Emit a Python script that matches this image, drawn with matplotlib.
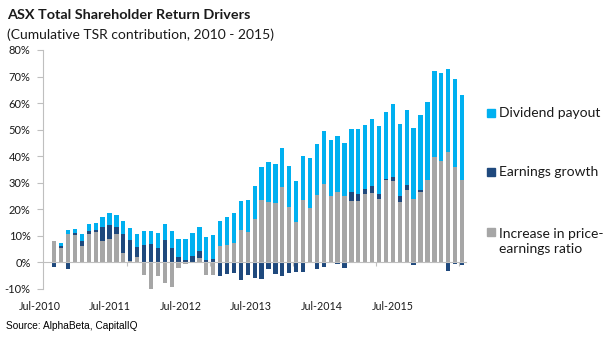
import matplotlib as mpl
import matplotlib.pyplot as plt
import numpy as np
from matplotlib.patches import Rectangle
from matplotlib.ticker import PercentFormatter, FixedLocator, NullFormatter
from matplotlib.transforms import blended_transform_factory

mpl.rcParams['font.family'] = ['Lato', 'DejaVu Sans']
mpl.rcParams['axes.unicode_minus'] = False

TEXT_COLOR = '#1a1a1a'
AXIS_COLOR = '#bfbfbf'
C_PE = '#a6a6a6'
C_EG = '#1f497d'
C_DIV = '#00b0f0'

# monthly cumulative TSR contribution (%), Jul-2010 onwards
pe_change = [8.2, 5.4, 10.8, 10.4, 6.2, 10.8, 11.6, 8.1, 8.9, 10.8,
             3.5, 0.4, 2.2, -4.6, -10.2, -5.0, -7.8, -9.3, -2.2, -0.4,
             0.3, 1.5, -4.9, -4.7, 6.3, 6.5, 7.5, 12.4, 11.6, 16.5,
             23.6, 22.7, 22.5, 28.3, 20.7, 15.3, 23.7, 20.5, 25.5, 29.7,
             25.0, 26.7, 24.9, 23.3, 23.1, 25.9, 26.1, 23.8, 31.2, 30.5,
             22.7, 27.2, 23.9, 26.7, 30.9, 39.7, 38.3, 41.4, 35.8, 31.2]
earnings = [-1.7, 0.9, -2.3, 0.5, 1.9, 1.1, 0.8, 5.3, 5.3, 2.7,
            7.2, 7.9, 3.8, 6.6, 6.9, 5.3, 8.4, 5.4, 2.0, 0.9,
            2.0, 2.7, 0.8, 1.2, -5.2, -4.5, -3.8, -6.6, -4.8, -6.0,
            -6.2, -2.5, -4.5, -5.2, -3.8, -3.7, -3.7, -0.2, -2.4, -1.8,
            -0.3, -0.4, -2.0, 3.1, 2.8, 1.8, 2.5, 2.0, 0.1, 1.5,
            2.2, 2.0, -1.0, 0.4, 0.3, -0.2, -0.3, -3.3, -0.5, -1.1]
dividend = [0.0, 0.9, 1.5, 1.8, 2.5, 2.5, 2.3, 3.8, 4.5, 4.3,
            4.9, 4.6, 4.7, 5.2, 4.9, 5.7, 6.1, 6.3, 6.8, 8.1,
            8.6, 9.1, 8.9, 9.0, 9.2, 10.5, 11.2, 10.9, 12.0, 12.3,
            12.5, 15.1, 14.6, 14.8, 15.7, 15.4, 16.4, 19.0, 19.0, 19.8,
            21.2, 21.1, 20.1, 23.7, 24.5, 24.2, 25.5, 25.5, 25.4, 27.6,
            27.2, 28.3, 26.7, 28.5, 29.4, 32.5, 32.9, 31.3, 33.1, 32.0]

series = [
    ("Increase in price-\nearnings ratio", pe_change, C_PE),
    ("Earnings growth", earnings, C_EG),
    ("Dividend payout", dividend, C_DIV),
]

xlabels = ["Jul-2010", "Jul-2011", "Jul-2012", "Jul-2013", "Jul-2014", "Jul-2015"]
xlabel_pos = [-2.07, 8.06, 18.33, 28.46, 38.73, 49.0]
year_ticks = [10.5, 22.5, 34.5, 46.5, 58.5]

fig = plt.figure(figsize=(6.15, 3.41), dpi=100)
ax = fig.add_axes([0.0702, 0.1525, 0.6878, 0.7009])

x = np.arange(len(pe_change))
pos_base = np.zeros(len(x))
neg_base = np.zeros(len(x))
for label, vals, color in series:
    vals = np.array(vals)
    bottom = np.where(vals >= 0, pos_base, neg_base)
    ax.bar(x, vals, 0.62, bottom=bottom, color=color, linewidth=0, zorder=2)
    pos_base += np.clip(vals, 0, None)
    neg_base += np.clip(vals, None, 0)

ax.set_xlim(-1.6, 59.6)
ax.set_ylim(-10, 80)

ax.spines['top'].set_visible(False)
ax.spines['right'].set_visible(False)
ax.spines['left'].set_color(AXIS_COLOR)
ax.spines['bottom'].set_color(AXIS_COLOR)
ax.spines['bottom'].set_position(('data', 0))
ax.spines['bottom'].set_zorder(3)

ax.yaxis.set_major_locator(FixedLocator(np.arange(-10, 81, 10)))
ax.yaxis.set_major_formatter(PercentFormatter(decimals=0))
ax.tick_params(axis='y', length=4, width=0.8, color=AXIS_COLOR, pad=5,
               labelsize=8, labelcolor=TEXT_COLOR)
ax.xaxis.set_major_locator(FixedLocator(year_ticks))
ax.xaxis.set_major_formatter(NullFormatter())
ax.tick_params(axis='x', length=3, width=0.8, color=AXIS_COLOR)

trans = blended_transform_factory(ax.transData, fig.transFigure)
for pos, lab in zip(xlabel_pos, xlabels):
    ax.text(pos, 0.1006, lab, transform=trans, ha='center', va='center',
            fontsize=7.7, color=TEXT_COLOR)

fig.text(0.011, 0.943, "ASX Total Shareholder Return Drivers", fontsize=10.4,
         fontweight='bold', color=TEXT_COLOR, va='baseline')
fig.text(0.011, 0.886, "(Cumulative TSR contribution, 2010 - 2015)", fontsize=10,
         color=TEXT_COLOR, va='baseline')
fig.text(0.01, 0.045, "Source: AlphaBeta, CapitalIQ", fontsize=7.3,
         family='Liberation Sans', color='black', va='center')

# legend, drawn by hand to keep the wide spacing
legend_rows = [("Dividend payout", C_DIV, 0.669, 0.669),
               ("Earnings growth", C_EG, 0.496, 0.496),
               ("Increase in price-\nearnings ratio", C_PE, 0.320, 0.293)]
for text, color, sq_y, txt_y in legend_rows:
    fig.patches.append(Rectangle((0.792, sq_y - 0.0117), 0.013, 0.0235,
                                 transform=fig.transFigure, color=color))
    fig.text(0.811, txt_y, text, fontsize=10, color=TEXT_COLOR,
             va='center', linespacing=1.3)

plt.savefig('out.png', dpi=100)
